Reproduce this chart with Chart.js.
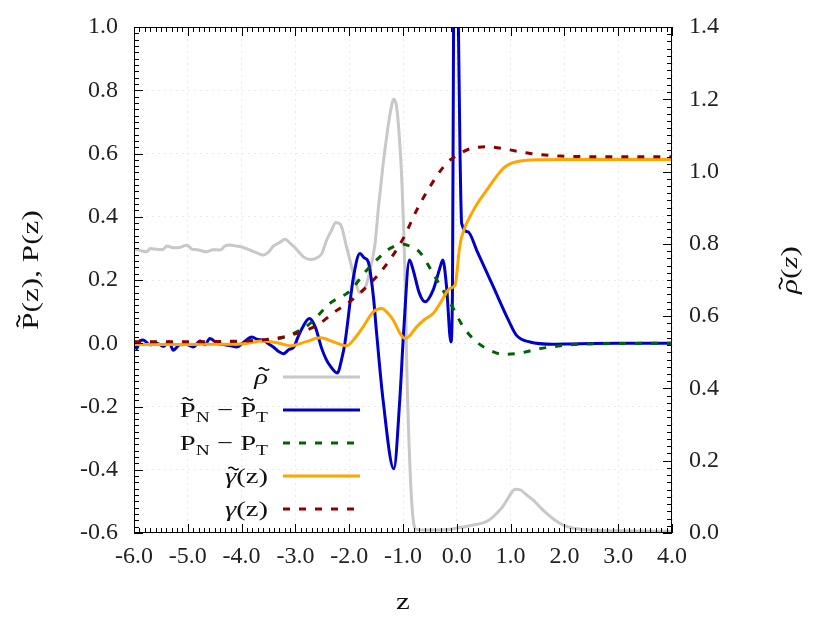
<!DOCTYPE html>
<html>
<head>
<meta charset="utf-8">
<script src="https://cdn.jsdelivr.net/npm/chart.js@4.4.0/dist/chart.umd.min.js"></script>
<style>
  html, body { margin: 0; padding: 0; background: #fff; }
  canvas { display: block; }
</style>
</head>
<body>
<canvas id="myChart" width="831" height="623"></canvas>
<script>
// density rho~ (right axis)
const zRho = [-6.0, -5.89, -5.76, -5.70, -5.58, -5.47, -5.39, -5.27, -5.15, -5.02, -4.92, -4.83, -4.65, -4.53, -4.40,
  -4.31, -4.22, -4.10, -3.97, -3.85, -3.72, -3.60, -3.50, -3.41, -3.30, -3.19, -3.10, -3.01, -2.92, -2.85, -2.73,
  -2.62, -2.51, -2.42, -2.33, -2.25, -2.16, -2.05, -1.92, -1.80, -1.70, -1.60, -1.52, -1.45, -1.37, -1.30, -1.24,
  -1.17, -1.12, -1.07, -1.02, -0.96, -0.93, -0.87, -0.81, -0.75, -0.50, -0.15, 0.06, 0.30, 0.49, 0.62, 0.74, 0.85,
  0.93, 1.02, 1.08, 1.17, 1.30, 1.42, 1.55, 1.67, 1.82, 1.98, 2.15, 2.35, 2.97, 4.0];
const rho = [0.785, 0.782, 0.778, 0.787, 0.785, 0.784, 0.794, 0.789, 0.790, 0.796, 0.785, 0.784, 0.778, 0.784, 0.783,
  0.794, 0.797, 0.794, 0.790, 0.783, 0.775, 0.769, 0.777, 0.794, 0.803, 0.813, 0.802, 0.790, 0.775, 0.764, 0.757,
  0.760, 0.773, 0.810, 0.837, 0.859, 0.853, 0.792, 0.718, 0.665, 0.680, 0.735, 0.80, 0.91, 1.02, 1.10, 1.16,
  1.20, 1.18, 1.10, 0.97, 0.70, 0.46, 0.18, 0.036, 0.010, 0.008, 0.010, 0.015, 0.022, 0.028, 0.038, 0.054, 0.072,
  0.091, 0.112, 0.121, 0.120, 0.105, 0.091, 0.071, 0.054, 0.036, 0.022, 0.014, 0.010, 0.006, 0.005];

// P~N - P~T
const zPt = [-6.0, -5.95, -5.89, -5.83, -5.70, -5.58, -5.45, -5.35, -5.27, -5.15, -5.02, -4.90, -4.77, -4.68, -4.59,
  -4.45, -4.34, -4.20, -4.09, -3.95, -3.81, -3.70, -3.59, -3.50, -3.41, -3.32, -3.22, -3.12, -3.03, -2.95, -2.88,
  -2.74, -2.63, -2.51, -2.43, -2.36, -2.22, -2.14, -2.08, -1.92, -1.80, -1.72, -1.645, -1.55, -1.49, -1.37, -1.17,
  -1.06, -0.99, -0.88, -0.81, -0.70, -0.59, -0.44, -0.32, -0.26, -0.19, -0.11, -0.08, -0.06, -0.015, 0.03, 0.06,
  0.09, 0.21, 0.37, 0.68, 0.96, 1.11, 1.36, 1.79, 2.09, 3.0, 4.0];
const pTilde = [0.0, -0.017, 0.008, 0.010, -0.005, 0.0, -0.010, 0.005, -0.022, -0.005, -0.004, -0.012, 0.007, -0.005, 0.015,
  0.0, -0.004, -0.008, -0.012, 0.005, 0.020, 0.012, 0.010, -0.002, -0.012, -0.025, -0.033, -0.020, -0.012, 0.020, 0.046,
  0.078, 0.051, -0.017, -0.050, -0.070, -0.094, -0.050, 0.0, 0.21, 0.284, 0.270, 0.257, 0.147, 0.031, -0.18, -0.397,
  -0.18, 0.031, 0.263, 0.231, 0.160, 0.131, 0.168, 0.235, 0.263, 0.178, 0.004, 0.178, 1.0, 1.35, 1.0, 0.6,
  0.379, 0.352, 0.294, 0.178, 0.073, 0.025, 0.004, -0.003, -0.002, 0.0, 0.0];

// PN - PT
const zP = [-6.0, -5.0, -4.0, -3.59, -3.16, -2.73, -2.36, -1.99, -1.675, -1.45, -1.24, -0.99, -0.85, -0.684, -0.44,
  -0.13, 0.12, 0.37, 0.617, 0.864, 1.17, 1.55, 2.04, 2.5, 4.0];
const pPlain = [0.0, 0.0, 0.003, 0.008, 0.022, 0.062, 0.126, 0.165, 0.231, 0.270, 0.300, 0.313, 0.305, 0.287, 0.220,
  0.130, 0.052, 0.004, -0.022, -0.035, -0.031, -0.017, -0.006, -0.002, 0.0];

// gamma~(z)
const zGt = [-6.0, -5.0, -4.5, -4.0, -3.59, -3.3, -3.1, -2.8, -2.54, -2.3, -2.05, -1.90, -1.74, -1.55, -1.40, -1.28,
  -1.18, -1.05, -0.96, -0.87, -0.745, -0.60, -0.44, -0.31, -0.13, -0.033, 0.05, 0.09, 0.31, 0.555, 0.864, 1.0,
  1.11, 1.48, 2.09, 4.0];
const gTilde = [-0.004, -0.004, -0.003, -0.002, 0.007, 0.0, -0.008, 0.005, 0.017, 0.005, -0.008, 0.015, 0.052, 0.100, 0.110, 0.095,
  0.073, 0.030, 0.015, 0.025, 0.052, 0.075, 0.094, 0.126, 0.173, 0.184, 0.300, 0.336, 0.421, 0.484, 0.553, 0.568,
  0.574, 0.580, 0.581, 0.581];

// gamma(z)
const zG = [-6.0, -5.0, -4.0, -3.59, -3.1, -2.6, -2.23, -2.0, -1.61, -1.37, -1.0, -0.745, -0.50, -0.19, 0.06, 0.31,
  0.585, 0.93, 1.36, 1.92, 2.5, 4.0];
const gPlain = [0.005, 0.005, 0.007, 0.011, 0.025, 0.057, 0.104, 0.130, 0.190, 0.235, 0.330, 0.421, 0.495, 0.569, 0.600, 0.618,
  0.621, 0.613, 0.600, 0.592, 0.590, 0.590];

const xTicks = [-6, -5, -4, -3, -2, -1, 0, 1, 2, 3, 4];
const leftTicks = [-0.6, -0.4, -0.2, 0.0, 0.2, 0.4, 0.6, 0.8, 1.0];
const rightTicks = [0.0, 0.2, 0.4, 0.6, 0.8, 1.0, 1.2, 1.4];

const SERIF = '"Liberation Serif", "Times New Roman", serif';

function pts(xs, ys) {
  return xs.map((x, i) => ({ x: x, y: ys[i] }));
}

function fmt(v) {
  if (Math.abs(v) < 1e-9) return '0.0';
  return v.toFixed(1);
}

// small wavy tilde drawn over a glyph
function tilde(ctx, xc, y0, size) {
  const tw = 0.36 * size, a = 0.055 * size;
  ctx.beginPath();
  for (let k = 0; k <= 16; k++) {
    const t = k / 16;
    const x = xc - tw / 2 + t * tw;
    const y = y0 - a * Math.sin(2 * Math.PI * t);
    if (k === 0) ctx.moveTo(x, y); else ctx.lineTo(x, y);
  }
  ctx.lineWidth = 0.065 * size;
  ctx.strokeStyle = '#000';
  ctx.stroke();
}

// draw text made of pieces (subscripts, italics, tildes), stretched a little sideways
function drawRich(ctx, parts, x, y, align, rot, size) {
  const stretch = 1.3;
  const base = size || 22;
  let w = 0;
  parts.forEach(p => {
    ctx.font = (p.it ? 'italic ' : '') + (p.s || base) + 'px ' + SERIF;
    w += ctx.measureText(p.t).width;
  });
  ctx.save();
  ctx.translate(x, y);
  ctx.rotate(rot || 0);
  ctx.scale(stretch, 1);
  let cx = align === 'center' ? -w / 2 : -w;
  ctx.fillStyle = '#111';
  ctx.textBaseline = 'alphabetic';
  parts.forEach(p => {
    const s = p.s || base;
    ctx.font = (p.it ? 'italic ' : '') + s + 'px ' + SERIF;
    ctx.fillText(p.t, cx, p.dy || 0);
    const gw = ctx.measureText(p.t).width;
    if (p.tl) tilde(ctx, cx + gw / 2 + (p.it ? 0.1 * s : 0), (p.dy || 0) - p.tl * s, s);
    cx += gw;
  });
  ctx.restore();
}

const legendItems = [
  { parts: [{ t: 'ρ', it: true, tl: 0.68 }], color: '#c8c8c8', dash: [] },
  { parts: [{ t: 'P', tl: 0.82 }, { t: 'N', s: 15, dy: 5 }, { t: ' \u2212 ' }, { t: 'P', tl: 0.82 }, { t: 'T', s: 15, dy: 5 }], color: '#0000cd', dash: [] },
  { parts: [{ t: 'P' }, { t: 'N', s: 15, dy: 5 }, { t: ' \u2212 ' }, { t: 'P' }, { t: 'T', s: 15, dy: 5 }], color: '#006400', dash: [7, 9] },
  { parts: [{ t: 'γ', it: true, tl: 0.66 }, { t: '(z)' }], color: '#ffa500', dash: [] },
  { parts: [{ t: 'γ', it: true }, { t: '(z)' }], color: '#8b0000', dash: [7, 9] }
];

const framePlugin = {
  id: 'framePlugin',
  afterDatasetsDraw(chart) {
    const { ctx, chartArea: a, scales } = chart;
    ctx.save();
    ctx.strokeStyle = '#000';
    ctx.lineWidth = 1;
    ctx.beginPath();
    for (let i = -60; i <= 40; i++) {
      const px = Math.round(scales.x.getPixelForValue(i / 10)) + 0.5;
      const len = i % 10 === 0 ? 9 : 5;
      ctx.moveTo(px, a.bottom); ctx.lineTo(px, a.bottom - len);
      ctx.moveTo(px, a.top); ctx.lineTo(px, a.top + len);
    }
    for (let i = -30; i <= 50; i++) {
      const py = Math.round(scales.y.getPixelForValue(i * 0.02)) + 0.5;
      const len = i % 10 === 0 ? 9 : 5;
      ctx.moveTo(a.left, py); ctx.lineTo(a.left + len, py);
    }
    for (let i = 0; i <= 70; i++) {
      const py = Math.round(scales.y2.getPixelForValue(i * 0.02)) + 0.5;
      const len = i % 10 === 0 ? 9 : 5;
      ctx.moveTo(a.right, py); ctx.lineTo(a.right - len, py);
    }
    ctx.stroke();
    ctx.strokeRect(Math.round(a.left) + 0.5, Math.round(a.top) + 0.5, Math.round(a.width) - 1, Math.round(a.height) - 1);

    // legend
    legendItems.forEach((it, i) => {
      const y = 377 + i * 33;
      ctx.strokeStyle = it.color;
      ctx.lineWidth = 3;
      ctx.setLineDash(it.dash);
      ctx.beginPath();
      ctx.moveTo(283, y); ctx.lineTo(360, y);
      ctx.stroke();
      ctx.setLineDash([]);
      drawRich(ctx, it.parts, 268, y + 7, 'right', 0);
    });

    // axis titles
    drawRich(ctx, [{ t: 'P', tl: 0.82 }, { t: '(z), P(z)' }], 38, 270, 'center', -Math.PI / 2, 24);
    drawRich(ctx, [{ t: 'ρ', it: true, tl: 0.68 }, { t: '(' }, { t: 'z', it: true }, { t: ')' }], 797, 270, 'center', -Math.PI / 2, 24);
    drawRich(ctx, [{ t: 'z' }], 403, 609, 'center', 0, 24);
    ctx.restore();
  }
};

function line(label, xs, ys, color, axis, dash, order) {
  return {
    label: label,
    data: pts(xs, ys),
    yAxisID: axis,
    borderColor: color,
    backgroundColor: color,
    borderWidth: 3,
    borderDash: dash,
    pointRadius: 0,
    fill: false,
    cubicInterpolationMode: 'monotone',
    order: order
  };
}

function noPad(s) {
  s.paddingTop = 0;
  s.paddingBottom = 0;
}

const ctx = document.getElementById('myChart');
new Chart(ctx, {
  type: 'line',
  data: {
    datasets: [
      line('rho', zRho, rho, '#c8c8c8', 'y2', [], 5),
      line('PtN-PtT', zPt, pTilde, '#0000cd', 'y', [], 4),
      line('PN-PT', zP, pPlain, '#006400', 'y', [7, 9], 3),
      line('gammaTilde', zGt, gTilde, '#ffa500', 'y', [], 2),
      line('gamma', zG, gPlain, '#8b0000', 'y', [7, 9], 1)
    ]
  },
  options: {
    responsive: false,
    animation: false,
    layout: { padding: { top: 27, left: 0, right: 0, bottom: 0 } },
    plugins: { legend: { display: false }, tooltip: { enabled: false } },
    scales: {
      x: {
        type: 'linear',
        min: -6, max: 4,
        afterBuildTicks: s => { s.ticks = xTicks.map(v => ({ value: v })); },
        afterFit: s => { s.height = 90; s.paddingLeft = 0; s.paddingRight = 0; },
        grid: { color: 'rgba(0,0,0,0.08)', drawTicks: false },
        border: { display: false, dash: [2, 4] },
        ticks: { color: '#222', padding: 9, maxRotation: 0, font: { family: SERIF, size: 24 }, callback: v => fmt(v) }
      },
      y: {
        position: 'left',
        min: -0.6, max: 1.0,
        afterBuildTicks: s => { s.ticks = leftTicks.map(v => ({ value: v })); },
        afterFit: s => { s.width = 134; noPad(s); },
        grid: { color: 'rgba(0,0,0,0.08)', drawTicks: false },
        border: { display: false, dash: [2, 4] },
        ticks: { color: '#222', padding: 16, font: { family: SERIF, size: 24 }, callback: v => fmt(v) }
      },
      y2: {
        position: 'right',
        min: 0, max: 1.4,
        afterBuildTicks: s => { s.ticks = rightTicks.map(v => ({ value: v })); },
        afterFit: s => { s.width = 159; noPad(s); },
        grid: { display: false, drawTicks: false },
        border: { display: false },
        ticks: { color: '#222', padding: 17, font: { family: SERIF, size: 24 }, callback: v => fmt(v) }
      }
    }
  },
  plugins: [framePlugin]
});
</script>
</body>
</html>
